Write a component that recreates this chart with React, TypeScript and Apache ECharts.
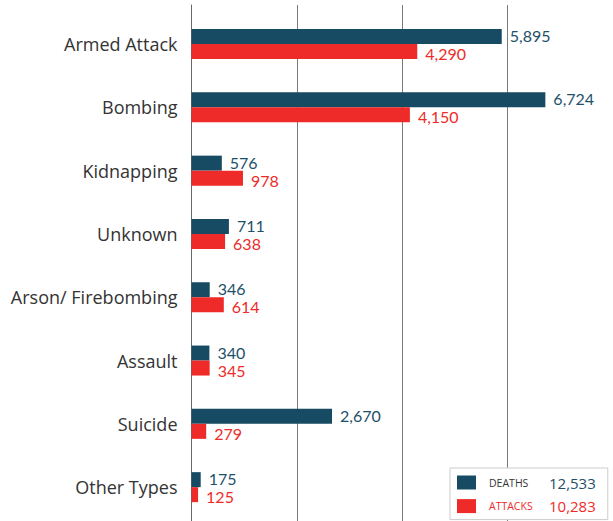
import React, { useEffect, useRef } from "react";
import * as echarts from "echarts";

const categories = [
  "Armed Attack",
  "Bombing",
  "Kidnapping",
  "Unknown",
  "Arson/ Firebombing",
  "Assault",
  "Suicide",
  "Other Types",
];
const deaths = [5895, 6724, 576, 711, 346, 340, 2670, 175];
const attacks = [4290, 4150, 978, 638, 614, 345, 279, 125];
const totalDeaths = 12533;
const totalAttacks = 10283;
const xTicks = { min: 0, max: 8000, interval: 2000 };

const TEAL = "#164b63";
const TEAL_TEXT = "#1d5069";
const RED = "#ee2b29";
const FONT = "Open Sans";
const NUM_FONT = "Lato";

const fmt = (v: number) => v.toLocaleString("en-US");

export default function App() {
  const ref = useRef<HTMLDivElement>(null);
  useEffect(() => {
    if (!ref.current) return;
    const chart = echarts.init(ref.current, undefined, { renderer: "svg" });
    const left = 191.5;
    const width = 421;
    chart.setOption({
      animation: false,
      backgroundColor: "#ffffff",
      textStyle: { fontFamily: FONT },
      grid: [
        { left, width, top: 5, bottom: 0, containLabel: false },
        { left, width, top: 12.4, height: 506.4, containLabel: false },
      ],
      xAxis: [
        {
          gridIndex: 0,
          type: "value",
          ...xTicks,
          axisLabel: { show: false },
          axisTick: { show: false },
          axisLine: { show: false },
          splitLine: {
            show: true,
            showMaxLine: false,
            lineStyle: { color: "#7a7a7a", width: 1 },
          },
        },
        {
          gridIndex: 1,
          type: "value",
          ...xTicks,
          show: false,
        },
      ],
      yAxis: [
        {
          gridIndex: 0,
          type: "value",
          axisLine: { show: true, lineStyle: { color: "#6a6a6a", width: 1 } },
          axisLabel: { show: false },
          axisTick: { show: false },
          splitLine: { show: false },
        },
        {
          gridIndex: 1,
          type: "category",
          data: categories,
          inverse: true,
          axisLine: { show: false },
          axisTick: { show: false },
          splitLine: { show: false },
          axisLabel: {
            margin: 14,
            fontSize: 18,
            fontWeight: 400,
            color: "#333333",
            fontFamily: FONT,
          },
        },
      ],
      legend: {
        orient: "vertical",
        left: 450,
        top: 468,
        backgroundColor: "#ffffff",
        borderColor: "#cccccc",
        borderWidth: 1,
        padding: [7, 12, 6, 7],
        itemWidth: 19,
        itemHeight: 14,
        itemGap: 8.6,
        selectedMode: false,
        data: [
          { name: "DEATHS", icon: "rect" },
          { name: "ATTACKS", icon: "rect" },
        ],
        formatter: (name: string) =>
          name === "DEATHS"
            ? `{nd|DEATHS}{vd|${fmt(totalDeaths)}}`
            : `{na|ATTACKS}{va|${fmt(totalAttacks)}}`,
        textStyle: {
          fontFamily: FONT,
          rich: {
            nd: { fontSize: 10.5, color: "#333333", width: 60, padding: [0, 0, 0, 8], lineHeight: 14, fontFamily: FONT },
            na: { fontSize: 10.5, color: RED, width: 60, padding: [0, 0, 0, 8], lineHeight: 14, fontFamily: FONT },
            vd: { fontSize: 15, color: TEAL_TEXT, lineHeight: 14, fontFamily: FONT },
            va: { fontSize: 15, color: RED, lineHeight: 14, fontFamily: FONT },
          },
        },
      },
      series: [
        {
          name: "DEATHS",
          type: "bar",
          xAxisIndex: 1,
          yAxisIndex: 1,
          data: deaths,
          barWidth: 15,
          barGap: "0%",
          itemStyle: { color: TEAL },
          label: {
            show: true,
            position: "right",
            distance: 8,
            fontSize: 16,
            lineHeight: 15,
            color: TEAL_TEXT,
            fontFamily: NUM_FONT,
            offset: [0, -1],
            formatter: (p: any) => fmt(p.value),
          },
        },
        {
          name: "ATTACKS",
          type: "bar",
          xAxisIndex: 1,
          yAxisIndex: 1,
          data: attacks,
          barWidth: 15,
          barGap: "0%",
          itemStyle: { color: RED },
          label: {
            show: true,
            position: "right",
            distance: 8,
            fontSize: 16,
            lineHeight: 15,
            color: RED,
            fontFamily: NUM_FONT,
            offset: [0, 2],
            formatter: (p: any) => fmt(p.value),
          },
        },
      ],
    });
    return () => chart.dispose();
  }, []);
  return (
    <div
      ref={ref}
      style={{ position: "absolute", left: 0, top: 0, width: 613, height: 521 }}
    />
  );
}
